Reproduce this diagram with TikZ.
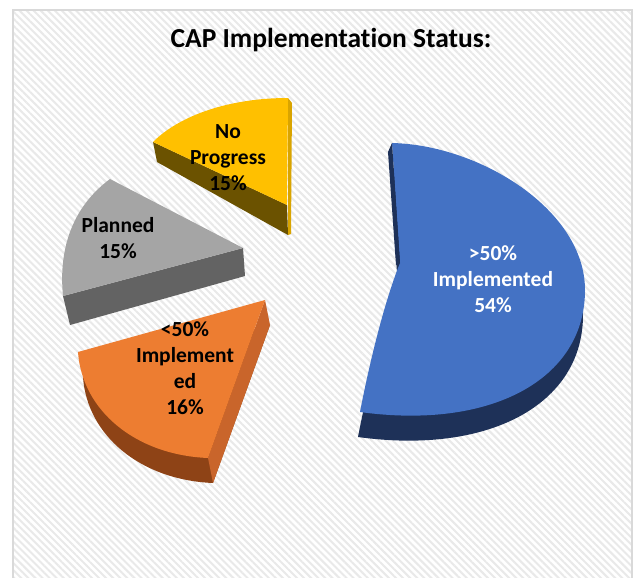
\documentclass[tikz,border=0pt]{standalone}
\usepackage{fontspec}
\setmainfont{Carlito}[Ligatures=NoCommon]
\usetikzlibrary{patterns.meta}
\definecolor{bluetop}{HTML}{4472C4}
\definecolor{blueside}{HTML}{1E3158}
\definecolor{graytop}{HTML}{A5A5A5}
\definecolor{grayside}{HTML}{636363}
\definecolor{yellowtop}{HTML}{FFC000}
\definecolor{yellowside}{HTML}{6B5200}
\definecolor{yellowedge}{HTML}{D9A400}
\definecolor{orangetop}{HTML}{ED7D31}
\definecolor{orangeside}{HTML}{C9652B}
\definecolor{orangerim}{HTML}{8E4316}
\definecolor{framegray}{HTML}{D9D9D9}
\definecolor{hatchgray}{HTML}{E9E9E9}
\def\bluetopface{(392,143) .. controls (480,145) and (585,210) .. (585,290)
  .. controls (585,380) and (490,430) .. (360,412)
  .. controls (370,360) and (385,300) .. (400,263) -- cycle}
\def\orangetopface{(265,300) -- (78,352) .. controls (82,410) and (135,455) .. (208,458) -- cycle}
\begin{document}
\begin{tikzpicture}[x=1pt,y=-1pt,
    lbl/.style={font=\bfseries\fontsize{21.5}{26}\selectfont,align=center,text=black},
    titlelbl/.style={font=\bfseries\fontsize{27.5}{32}\selectfont}]
  \useasboundingbox (0,0) rectangle (640,578);
  \clip (0,0) rectangle (640,578);
  % chart area
  \fill[white] (0,0) rectangle (640,578);
  \fill[pattern={Lines[angle=-45,distance=5pt,line width=2pt]},pattern color=hatchgray]
    (13,10) rectangle (632,600);
  \draw[framegray,line width=1.5pt] (13,10) rectangle (632,600);
  % >50% implemented
  \fill[blueside,shift={(-2,25)}] \bluetopface;
  \fill[bluetop] \bluetopface;
  \fill[blueside] (392,143) -- (400,263) -- (396,265) -- (388,152) -- cycle;
  % <50% implemented
  \fill[orangerim,shift={(5,25)}] \orangetopface;
  \fill[orangeside] (265,300) -- (270,325) -- (213,483) -- (208,458) -- cycle;
  \fill[orangetop] \orangetopface;
  % planned
  \fill[grayside] (63,296) -- (243,248) -- (245,276) -- (70,325) -- cycle;
  \fill[graytop] (243,248) -- (110,179) .. controls (75,205) and (58,245) .. (63,296) -- cycle;
  % no progress
  \fill[yellowside] (153,142) -- (287,205) -- (288,235) -- (157,162) -- cycle;
  \fill[yellowedge] (288,98) -- (292,103) -- (291,234) -- (288,235) -- cycle;
  \fill[yellowtop] (287,205) -- (153,142) .. controls (180,115) and (230,98) .. (288,98) -- cycle;
  % labels
  \node[titlelbl] (title) at (331,40) {CAP Implementation Status:};
  \node[lbl] (noprog) at (228,158) {No\\Progress\\15\%};
  \node[lbl] (planned) at (118,238) {Planned\\15\%};
  \node[lbl] (partial) at (185,368) {<50\%\\Implement\\ed\\16\%};
  \node[lbl,text=white] (impl) at (493,279) {>50\%\\Implemented\\54\%};
\end{tikzpicture}
\end{document}
